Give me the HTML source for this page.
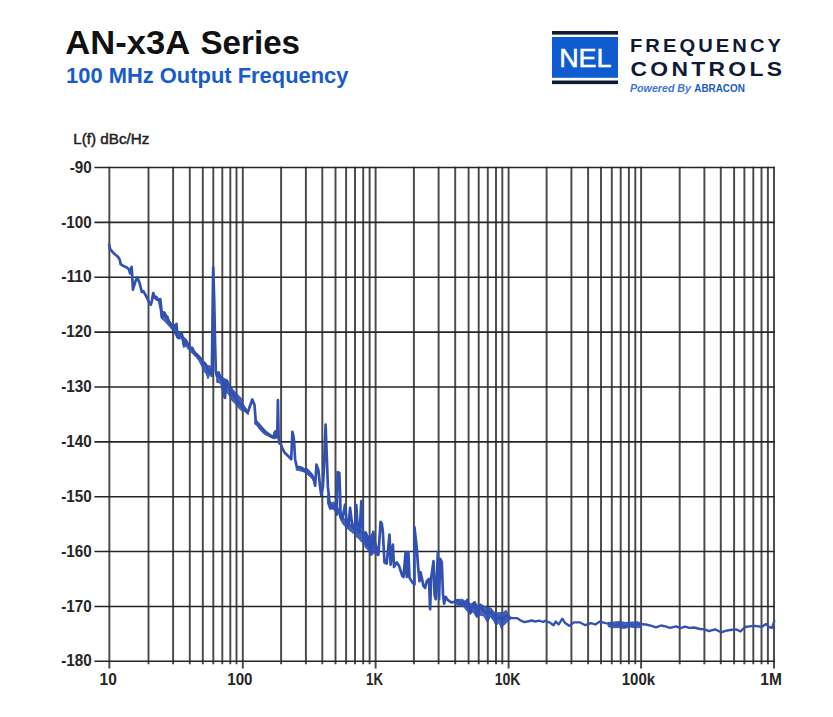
<!DOCTYPE html>
<html><head><meta charset="utf-8">
<style>
html,body{margin:0;padding:0;background:#fff;}
body{width:833px;height:717px;position:relative;overflow:hidden;font-family:"Liberation Sans",sans-serif;}
svg{position:absolute;left:0;top:0;}
</style></head><body>
<svg width="833" height="717" viewBox="0 0 833 717">
<g font-family="Liberation Sans" font-weight="bold" fill="#111">
<text x="65.3" y="54" font-size="32.5" textLength="124.8" lengthAdjust="spacingAndGlyphs">AN-x3A</text>
<text x="200.5" y="54" font-size="32.5" textLength="99.5" lengthAdjust="spacingAndGlyphs">Series</text>
</g>
<text x="66" y="82.7" font-family="Liberation Sans" font-weight="bold" font-size="22" fill="#1a5bcc" textLength="282.5" lengthAdjust="spacingAndGlyphs">100 MHz Output Frequency</text>
<!-- logo -->
<rect x="552" y="31" width="66" height="3.6" fill="#0e1a33"/>
<rect x="552" y="37" width="66" height="40.8" fill="#0f5bd0"/>
<rect x="552" y="80.5" width="66" height="3.6" fill="#0e1a33"/>
<text x="559.2" y="66.6" font-family="Liberation Sans" font-size="26.5" fill="#fff" stroke="#fff" stroke-width="0.5" textLength="52.3" lengthAdjust="spacingAndGlyphs">NEL</text>
<text transform="scale(1.12,1)" x="562.50" y="51.7" font-family="Liberation Sans" font-weight="bold" font-size="18" fill="#0f1a36" textLength="134.82" lengthAdjust="spacing">FREQUENCY</text>
<text transform="scale(1.1,1)" x="573.18" y="76.4" font-family="Liberation Sans" font-weight="bold" font-size="20.8" fill="#0f1a36" textLength="137.73" lengthAdjust="spacing">CONTROLS</text>
<text x="630" y="92.0" font-family="Liberation Sans" font-style="italic" font-weight="bold" font-size="10" fill="#3c76db" textLength="61" lengthAdjust="spacingAndGlyphs">Powered By</text>
<text x="694.3" y="92.3" font-family="Liberation Sans" font-weight="bold" font-size="10" fill="#1e58c4" textLength="50.5" lengthAdjust="spacingAndGlyphs">ABRACON</text>
<text x="73.3" y="144.2" font-family="Liberation Sans" font-size="14.2" fill="#222" stroke="#222" stroke-width="0.45" textLength="76" lengthAdjust="spacingAndGlyphs">L(f) dBc/Hz</text>
<g stroke="#4a4a4a" stroke-width="1.95">
<line x1="109.35" y1="166.75" x2="109.35" y2="668.6"/>
<line x1="148.50" y1="166.75" x2="148.50" y2="664.3"/>
<line x1="173.10" y1="166.75" x2="173.10" y2="664.3"/>
<line x1="189.80" y1="166.75" x2="189.80" y2="664.3"/>
<line x1="202.80" y1="166.75" x2="202.80" y2="664.3"/>
<line x1="213.30" y1="166.75" x2="213.30" y2="664.3"/>
<line x1="222.30" y1="166.75" x2="222.30" y2="664.3"/>
<line x1="230.30" y1="166.75" x2="230.30" y2="664.3"/>
<line x1="236.50" y1="166.75" x2="236.50" y2="664.3"/>
<line x1="242.80" y1="166.75" x2="242.80" y2="668.6"/>
<line x1="281.10" y1="166.75" x2="281.10" y2="664.3"/>
<line x1="305.90" y1="166.75" x2="305.90" y2="664.3"/>
<line x1="322.30" y1="166.75" x2="322.30" y2="664.3"/>
<line x1="335.50" y1="166.75" x2="335.50" y2="664.3"/>
<line x1="346.10" y1="166.75" x2="346.10" y2="664.3"/>
<line x1="355.00" y1="166.75" x2="355.00" y2="664.3"/>
<line x1="363.20" y1="166.75" x2="363.20" y2="664.3"/>
<line x1="369.60" y1="166.75" x2="369.60" y2="664.3"/>
<line x1="375.60" y1="166.75" x2="375.60" y2="668.6"/>
<line x1="413.90" y1="166.75" x2="413.90" y2="664.3"/>
<line x1="438.60" y1="166.75" x2="438.60" y2="664.3"/>
<line x1="455.20" y1="166.75" x2="455.20" y2="664.3"/>
<line x1="468.60" y1="166.75" x2="468.60" y2="664.3"/>
<line x1="478.70" y1="166.75" x2="478.70" y2="664.3"/>
<line x1="487.80" y1="166.75" x2="487.80" y2="664.3"/>
<line x1="496.00" y1="166.75" x2="496.00" y2="664.3"/>
<line x1="502.30" y1="166.75" x2="502.30" y2="664.3"/>
<line x1="508.60" y1="166.75" x2="508.60" y2="668.6"/>
<line x1="546.60" y1="166.75" x2="546.60" y2="664.3"/>
<line x1="571.40" y1="166.75" x2="571.40" y2="664.3"/>
<line x1="588.10" y1="166.75" x2="588.10" y2="664.3"/>
<line x1="601.00" y1="166.75" x2="601.00" y2="664.3"/>
<line x1="611.80" y1="166.75" x2="611.80" y2="664.3"/>
<line x1="620.70" y1="166.75" x2="620.70" y2="664.3"/>
<line x1="628.90" y1="166.75" x2="628.90" y2="664.3"/>
<line x1="635.30" y1="166.75" x2="635.30" y2="664.3"/>
<line x1="641.10" y1="166.75" x2="641.10" y2="668.6"/>
<line x1="679.70" y1="166.75" x2="679.70" y2="664.3"/>
<line x1="704.40" y1="166.75" x2="704.40" y2="664.3"/>
<line x1="720.80" y1="166.75" x2="720.80" y2="664.3"/>
<line x1="734.10" y1="166.75" x2="734.10" y2="664.3"/>
<line x1="744.40" y1="166.75" x2="744.40" y2="664.3"/>
<line x1="753.30" y1="166.75" x2="753.30" y2="664.3"/>
<line x1="761.50" y1="166.75" x2="761.50" y2="664.3"/>
<line x1="767.90" y1="166.75" x2="767.90" y2="664.3"/>
<line x1="774.00" y1="166.75" x2="774.00" y2="668.6"/>
</g>
<g stroke="#262626" stroke-width="1.6">
<line x1="94.4" y1="167.55" x2="774.85" y2="167.55"/>
<line x1="94.4" y1="222.41" x2="774.85" y2="222.41"/>
<line x1="94.4" y1="277.27" x2="774.85" y2="277.27"/>
<line x1="94.4" y1="332.13" x2="774.85" y2="332.13"/>
<line x1="94.4" y1="386.99" x2="774.85" y2="386.99"/>
<line x1="94.4" y1="441.85" x2="774.85" y2="441.85"/>
<line x1="94.4" y1="496.71" x2="774.85" y2="496.71"/>
<line x1="94.4" y1="551.57" x2="774.85" y2="551.57"/>
<line x1="94.4" y1="606.43" x2="774.85" y2="606.43"/>
<line x1="94.4" y1="661.29" x2="774.85" y2="661.29"/>
</g>
<g font-family="Liberation Sans" font-weight="bold" font-size="16.3" fill="#262626">
<text x="69.78" y="172.65" textLength="22.02" lengthAdjust="spacingAndGlyphs">-90</text>
<text x="61.30" y="227.51" textLength="30.50" lengthAdjust="spacingAndGlyphs">-100</text>
<text x="61.30" y="282.37" textLength="30.50" lengthAdjust="spacingAndGlyphs">-110</text>
<text x="61.30" y="337.23" textLength="30.50" lengthAdjust="spacingAndGlyphs">-120</text>
<text x="61.30" y="392.09" textLength="30.50" lengthAdjust="spacingAndGlyphs">-130</text>
<text x="61.30" y="446.95" textLength="30.50" lengthAdjust="spacingAndGlyphs">-140</text>
<text x="61.30" y="501.81" textLength="30.50" lengthAdjust="spacingAndGlyphs">-150</text>
<text x="61.30" y="556.67" textLength="30.50" lengthAdjust="spacingAndGlyphs">-160</text>
<text x="61.30" y="611.53" textLength="30.50" lengthAdjust="spacingAndGlyphs">-170</text>
<text x="61.30" y="666.39" textLength="30.50" lengthAdjust="spacingAndGlyphs">-180</text>
<text x="99.50" y="684.6" textLength="17.30" lengthAdjust="spacingAndGlyphs">10</text>
<text x="227.30" y="684.6" textLength="25.20" lengthAdjust="spacingAndGlyphs">100</text>
<text x="366.00" y="684.6" textLength="17.00" lengthAdjust="spacingAndGlyphs">1K</text>
<text x="494.70" y="684.6" textLength="25.80" lengthAdjust="spacingAndGlyphs">10K</text>
<text x="621.70" y="684.6" textLength="33.40" lengthAdjust="spacingAndGlyphs">100k</text>
<text x="760.30" y="684.6" textLength="21.50" lengthAdjust="spacingAndGlyphs">1M</text>
</g>
<path d="M155.0 296.7 L159.5 298.9 L160.6 300.6 L161.7 310.6 L165.0 312.3 L167.3 316.2 L169.5 320.6 L172.8 325.1 L176.2 324.0 L177.9 330.7 L180.6 332.9 L183.4 336.8 L186.2 339.1 L188.5 344.1 L191.8 347.4 L195.1 351.5 L198.0 354.2 L201.5 358.7 L204.8 362.5 L208.0 365.8 L210.1 365.7 L211.3 373.9 L209.4 375.8 L207.9 378.9 L206.3 373.9 L203.8 371.4 L201.9 366.4 L198.8 360.7 L196.3 357.5 L192.9 354.1 L190.7 351.9 L188.5 349.6 L186.2 346.3 L183.4 347.4 L181.8 338.5 L178.4 339.1 L176.7 337.4 L173.4 331.2 L169.5 326.8 L166.2 322.9 L163.9 320.6 L161.1 318.4 L160.0 309.5 L158.3 301.1 L155.0 299.5Z" fill="#3150b0" fill-opacity="0.9" stroke="#3150b0" stroke-opacity="0.9" stroke-width="1" stroke-linejoin="round"/>
<path d="M216.7 372.6 L219.1 372.6 L220.6 376.5 L224.5 378.4 L227.4 380.4 L230.4 386.2 L234.3 391.1 L238.2 395.0 L241.1 397.9 L243.0 403.8 L247.0 409.6 L248.4 415.0 L244.0 409.6 L241.1 410.6 L238.2 407.7 L235.2 403.8 L232.3 400.9 L228.4 394.0 L225.5 392.1 L224.0 397.9 L220.6 383.3 L216.7 382.3Z" fill="#3150b0" fill-opacity="0.9" stroke="#3150b0" stroke-opacity="0.9" stroke-width="1" stroke-linejoin="round"/>
<path d="M327.4 495.0 L328.9 499.6 L331.2 502.7 L333.5 501.9 L336.0 504.0 L340.4 512.0 L342.7 516.0 L346.8 522.4 L350.0 524.0 L353.5 525.8 L356.5 527.5 L359.1 529.1 L361.5 530.5 L364.6 532.5 L369.1 537.0 L371.8 539.5 L371.1 550.0 L369.1 548.1 L364.6 544.8 L362.0 542.5 L359.1 539.2 L356.0 536.5 L353.5 533.6 L350.0 531.0 L346.8 528.0 L343.5 525.0 L340.4 519.5 L338.1 511.9 L336.6 514.9 L334.7 510.3 L332.0 508.8 L329.7 509.6 L327.4 503.0Z" fill="#3150b0" fill-opacity="0.9" stroke="#3150b0" stroke-opacity="0.9" stroke-width="1" stroke-linejoin="round"/>
<path d="M365.0 531.6 L367.0 535.5 L370.0 537.0 L373.3 531.1 L374.8 539.4 L377.7 548.0 L377.7 556.0 L373.8 553.1 L371.3 556.0 L367.9 550.2 L365.0 547.2Z" fill="#3150b0" fill-opacity="0.9" stroke="#3150b0" stroke-opacity="0.9" stroke-width="1" stroke-linejoin="round"/>
<path d="M455.0 599.5 L460.0 599.4 L462.9 599.4 L464.3 601.6 L467.2 598.7 L468.6 603.0 L471.5 603.7 L474.4 601.6 L477.3 605.2 L480.2 603.7 L483.8 605.9 L487.4 607.3 L491.0 608.1 L493.9 611.7 L496.7 613.1 L499.6 612.4 L502.5 613.1 L506.1 610.2 L508.3 613.8 L510.4 617.4 L510.4 618.9 L508.3 621.0 L505.4 623.9 L503.2 625.3 L501.8 629.7 L498.9 622.5 L496.0 626.1 L493.9 621.0 L490.3 616.7 L487.4 622.5 L483.8 616.0 L480.2 615.3 L476.6 617.4 L473.0 611.7 L470.1 614.5 L465.8 609.5 L462.9 605.9 L460.0 606.6 L455.0 604.0Z" fill="#3150b0" fill-opacity="0.9" stroke="#3150b0" stroke-opacity="0.9" stroke-width="1" stroke-linejoin="round"/>
<path d="M608.0 622.5 L614.0 622.0 L620.0 621.5 L626.0 622.5 L632.0 622.0 L638.0 621.8 L641.0 623.0 L641.0 627.5 L636.0 627.8 L630.0 627.0 L624.0 628.5 L618.0 627.5 L612.0 627.8 L608.0 626.5Z" fill="#3150b0" fill-opacity="0.9" stroke="#3150b0" stroke-opacity="0.9" stroke-width="1" stroke-linejoin="round"/>
<path d="M255.2 419.6 L257.7 422.7 L261.4 426.5 L265.2 430.3 L269.0 433.4 L274.0 436.5 L275.3 439.0 L271.5 437.8 L266.5 435.3 L263.9 434.0 L260.2 430.3 L256.4 425.2 L254.5 424.0Z" fill="#3150b0" fill-opacity="0.9" stroke="#3150b0" stroke-opacity="0.9" stroke-width="1" stroke-linejoin="round"/>
<path d="M296.5 466.5 L300.0 466.8 L303.3 468.8 L306.7 468.3 L309.0 470.5 L311.5 472.8 L313.6 476.0 L314.2 482.0 L312.5 479.5 L310.5 477.0 L308.0 475.0 L305.0 472.5 L302.0 471.3 L298.5 470.5 L296.0 470.0Z" fill="#3150b0" fill-opacity="0.9" stroke="#3150b0" stroke-opacity="0.9" stroke-width="1" stroke-linejoin="round"/>

<path d="M109.1 244.5 L110.0 248.9 L113.4 252.9 L118.4 257.3 L119.9 260.1 L120.6 264.2 L122.9 265.7 L126.8 267.4 L129.2 269.6 L130.1 273.5 L131.6 266.8 L132.2 275.0 L132.9 289.7 L135.7 280.7 L137.4 277.4 L139.6 283.0 L141.8 291.9 L143.5 291.3 L146.9 297.5 L149.1 302.5 L150.8 304.7 L151.9 300.8 L153.2 293.0 L154.7 297.5 L156.3 296.9 L158.0 299.7 L160.3 299.2 L161.1 306.4 L161.6 312.3 L162.2 316.7 L164.5 312.8 L165.6 316.2 L167.3 316.7 L168.4 320.6 L171.2 325.1 L173.4 329.0 L176.5 324.0 L177.3 336.8 L178.4 337.9 L181.8 333.5 L184.0 344.6 L185.7 340.2 L188.5 345.7 L190.1 349.1 L192.4 348.0 L194.6 353.6 L197.9 355.8 L201.3 359.1 L203.5 362.5 L205.2 363.6 L206.9 366.9 L208.0 372.5 L209.4 372.0 L210.6 370.0 L211.8 376.0 L212.2 345.0 L212.6 310.0 L213.2 267.6 L214.2 300.0 L215.0 340.0 L215.8 371.0 L216.8 376.0 L218.6 372.5 L220.3 377.0 L222.2 379.0 L223.9 383.5 L225.0 398.0 L226.1 380.1 L227.3 381.2 L228.4 385.7 L230.0 389.1 L232.3 392.4 L234.5 396.9 L236.7 400.2 L238.4 402.4 L240.1 404.7 L242.3 406.9 L245.1 410.8 L247.7 412.5 L252.3 399.5 L254.5 405.0 L255.7 420.5 L258.0 423.5 L261.5 427.5 L265.0 431.5 L268.0 434.0 L271.0 436.0 L273.5 437.5 L274.5 433.0 L275.3 431.5 L276.2 437.4 L277.3 432.4 L277.9 400.0 L278.7 439.1 L279.5 443.6 L280.6 443.6 L282.3 448.0 L284.5 452.5 L287.9 455.8 L290.1 458.1 L291.2 459.2 L292.4 431.8 L293.5 436.9 L294.0 440.2 L295.1 459.2 L296.8 467.0 L299.1 467.0 L302.4 468.1 L303.3 470.2 L306.7 469.7 L308.9 472.4 L311.2 474.7 L313.4 478.0 L315.1 485.8 L316.5 464.6 L318.4 470.2 L320.1 486.9 L321.2 494.8 L322.9 486.9 L324.0 466.9 L325.6 424.6 L326.6 451.2 L327.9 486.9 L329.0 497.0 L329.5 503.5 L331.2 507.9 L333.4 505.7 L335.6 509.1 L336.7 514.6 L337.6 472.2 L339.3 472.8 L340.1 494.5 L340.6 516.9 L342.3 519.1 L345.1 504.6 L346.8 523.6 L348.5 525.8 L350.1 507.9 L352.4 526.9 L354.6 529.1 L356.3 505.1 L357.9 531.4 L359.6 532.5 L361.3 501.2 L363.0 534.7 L365.7 532.5 L368.0 538.1 L370.0 542.4 L371.1 552.4 L373.3 531.8 L375.0 546.9 L376.7 548.0 L378.4 554.7 L380.6 521.8 L381.7 523.4 L382.8 531.2 L384.5 562.5 L386.7 563.6 L389.5 534.6 L390.6 564.7 L392.9 544.6 L394.0 566.9 L396.8 562.5 L399.0 565.8 L401.2 572.5 L402.2 575.7 L403.5 577.0 L405.6 552.2 L406.7 576.8 L408.4 552.2 L409.5 577.9 L412.3 582.4 L414.5 584.6 L414.4 527.0 L416.9 549.1 L417.9 564.5 L419.5 581.2 L420.6 572.3 L421.8 577.9 L423.4 585.7 L425.1 587.9 L426.8 581.2 L429.0 579.0 L430.1 609.1 L431.2 577.9 L433.5 561.2 L434.6 594.6 L435.7 599.1 L437.9 552.2 L439.1 599.1 L440.2 558.9 L441.8 562.3 L443.0 594.6 L444.1 603.6 L445.7 596.9 L448.0 600.2 L451.3 602.4 L454.7 601.9 L458.0 600.2 L460.3 605.8 L463.6 601.3 L465.8 605.8 L467.5 600.2 L470.3 612.5 L472.5 605.8 L474.8 602.4 L477.0 615.8 L480.0 605.8 L483.8 611.0 L487.4 614.0 L491.0 612.0 L493.9 616.0 L496.7 619.0 L499.6 617.0 L502.5 620.0 L506.1 616.0 L508.3 617.0 L510.4 618.0" fill="none" stroke="#3150b0" stroke-width="2.7" stroke-linejoin="round" stroke-linecap="round"/><path d="M508.3 617.0 L510.4 618.0 L513.3 618.1 L516.9 618.1 L520.0 620.1 L523.8 622.0 L527.6 621.5 L531.5 620.5 L535.3 621.5 L539.2 620.7 L543.0 622.0 L545.0 620.9 L549.3 622.3 L553.6 625.2 L555.8 621.6 L558.7 624.5 L562.3 618.7 L565.2 623.1 L569.5 625.9 L573.8 622.3 L579.6 622.3 L585.3 625.2 L591.1 623.1 L595.4 624.5 L599.8 621.6 L605.5 623.1 L611.3 623.8 L615.6 625.9 L619.9 623.1 L624.3 626.7 L630.0 624.5 L634.3 625.9 L638.7 623.8 L645.9 624.5 L651.6 625.9 L656.0 627.4 L661.0 625.5 L665.5 626.3 L670.0 627.8 L676.0 626.3 L680.5 628.2 L685.0 626.7 L689.5 627.8 L694.0 627.5 L700.0 629.0 L704.5 629.3 L709.0 631.2 L715.0 629.3 L721.0 632.3 L725.5 630.8 L730.0 630.0 L736.0 629.3 L740.5 631.5 L745.0 627.0 L749.5 626.3 L754.0 625.8 L758.5 626.3 L761.5 627.0 L766.0 624.0 L769.0 627.0 L772.0 627.8 L774.3 621.0" fill="none" stroke="#3352b2" stroke-width="2.35" stroke-linejoin="round" stroke-linecap="round"/>
</svg>
</body></html>
